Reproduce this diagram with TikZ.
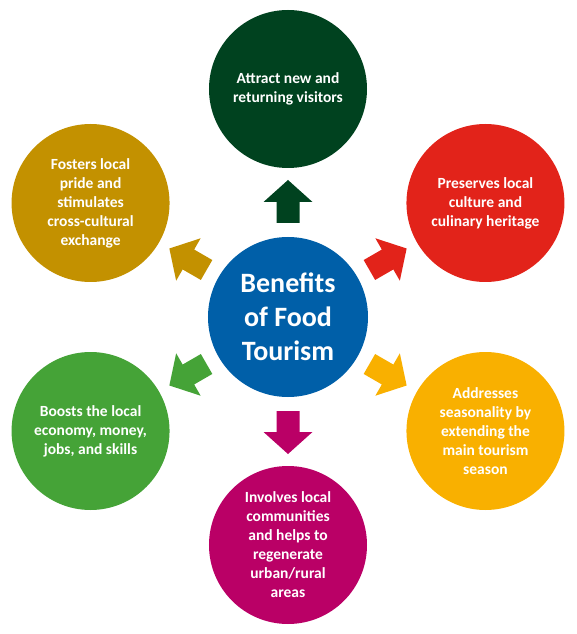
\documentclass[tikz,border=0pt]{standalone}
\usepackage{fontspec}
\setmainfont{Carlito}
\definecolor{hubblue}{HTML}{005FA8}
\definecolor{visgreen}{HTML}{00421F}
\definecolor{herred}{HTML}{E2231A}
\definecolor{seaorange}{HTML}{F9B000}
\definecolor{commagenta}{HTML}{BA0066}
\definecolor{ecogreen}{HTML}{45A337}
\definecolor{pridegold}{HTML}{C39100}

\begin{document}
\begin{tikzpicture}[
      x=1pt,y=1pt,
      hub/.style={circle,fill=hubblue,text=white,minimum size=160pt,inner sep=0pt,align=center,font=\fontsize{28}{34}\selectfont\bfseries},
      petal/.style={circle,text=white,minimum size=158pt,inner sep=0pt,align=center,font=\fontsize{15.5}{19}\selectfont\bfseries},
    ]
    \def\R{228}
    \def\ra{94}\def\rb{115}\def\rc{137}
    \def\sw{11.5}\def\hw{24.5}
    \useasboundingbox (-288,-317) rectangle (288,317);
    \node[hub] (hub) at (0,0) {Benefits\\of Food\\Tourism};
    \foreach \ang/\col/\nm/\txt in {
        90/visgreen/attract/{Attract new and\\returning visitors},
        30/herred/preserve/{Preserves local\\culture and\\culinary heritage},
        -30/seaorange/season/{Addresses\\seasonality by\\extending the\\main tourism\\season},
        -90/commagenta/involve/{Involves local\\communities\\and helps to\\regenerate\\urban/rural\\areas},
        -150/ecogreen/boost/{Boosts the local\\economy, money,\\jobs, and skills},
        150/pridegold/foster/{Fosters local\\pride and\\stimulates\\cross-cultural\\exchange}}{
      \node[petal,fill=\col] (\nm) at (\ang:\R) {\txt};
      \fill[\col,rotate=\ang] (\ra,-\sw) -- (\rb,-\sw) -- (\rb,-\hw) -- (\rc,0)
        -- (\rb,\hw) -- (\rb,\sw) -- (\ra,\sw) -- cycle;
    }
  \end{tikzpicture}
\end{document}
